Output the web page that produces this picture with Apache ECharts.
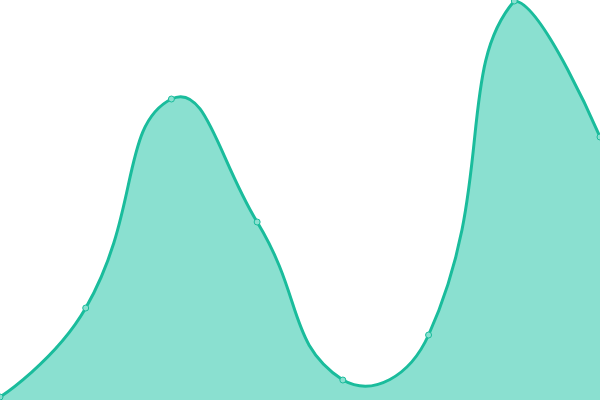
<!DOCTYPE html>
<html><head><meta charset="utf-8">
<script src="https://cdn.jsdelivr.net/npm/echarts@6/dist/echarts.min.js"></script>
<style>html,body{margin:0;padding:0;background:#fff}#c{width:600px;height:400px}</style>
</head><body><div id="c"></div>
<script>
const categories = ['A','B','C','D','E','F','G','H'];
const values = [3, 92, 301, 178, 20, 65, 399, 263];
const SMOOTH = 0.5;

function renderCurve(params, api) {
  if (params.dataIndex !== 0) return null;
  const pts = values.map((v, i) => api.coord([i, v]));
  let minX = Infinity, minY = Infinity, maxX = -Infinity, maxY = -Infinity;
  pts.forEach(p => { minX = Math.min(minX, p[0]); maxX = Math.max(maxX, p[0]); minY = Math.min(minY, p[1]); maxY = Math.max(maxY, p[1]); });
  const clamp = c => [Math.min(Math.max(c[0], minX), maxX), Math.min(Math.max(c[1], minY), maxY)];
  const n = pts.length;
  let d = 'M' + pts[0][0] + ' ' + pts[0][1];
  let cp0 = pts[0].slice();
  for (let i = 1; i < n; i++) {
    const p = pts[i], prev = pts[i - 1], next = pts[i + 1];
    let cp1, nextCp0 = null;
    if (!next) {
      cp1 = p.slice();
    } else {
      const v = [next[0] - prev[0], next[1] - prev[1]];
      const lp = Math.hypot(p[0] - prev[0], p[1] - prev[1]);
      const ln = Math.hypot(p[0] - next[0], p[1] - next[1]);
      const r = ln / (ln + lp);
      cp1 = [p[0] - v[0] * SMOOTH * (1 - r), p[1] - v[1] * SMOOTH * (1 - r)];
      nextCp0 = [p[0] + v[0] * SMOOTH * r, p[1] + v[1] * SMOOTH * r];
    }
    const a = clamp(cp0), b = clamp(cp1);
    d += ' C' + a[0] + ' ' + a[1] + ' ' + b[0] + ' ' + b[1] + ' ' + p[0] + ' ' + p[1];
    cp0 = nextCp0;
  }
  const base = api.coord([0, 0])[1];
  const areaD = d + ' L' + pts[n - 1][0] + ' ' + base + ' L' + pts[0][0] + ' ' + base + ' Z';
  return {
    type: 'group',
    children: [
      {type: 'path', shape: {pathData: areaD}, style: {fill: '#8ae0d0', stroke: null}},
      {type: 'path', shape: {pathData: d}, style: {fill: null, stroke: '#1abc9c', lineWidth: 3}}
    ]
  };
}

const chart = echarts.init(document.getElementById('c'));
chart.setOption({
  animation: false,
  grid: {left: 0, right: 0, top: 0, bottom: 0},
  xAxis: {type: 'category', data: categories, boundaryGap: false, show: false},
  yAxis: {type: 'value', min: 0, max: 400, show: false},
  series: [{
    type: 'custom',
    renderItem: renderCurve,
    data: values.map((v, i) => [i, v]),
    clip: false,
    z: 1
  }, {
    type: 'scatter',
    data: values.map((v, i) => [i, v]),
    symbol: 'circle',
    symbolSize: 6,
    itemStyle: {color: '#8ae0d0', borderColor: '#1abc9c', borderWidth: 1, opacity: 1},
    z: 2
  }]
});
</script></body></html>
